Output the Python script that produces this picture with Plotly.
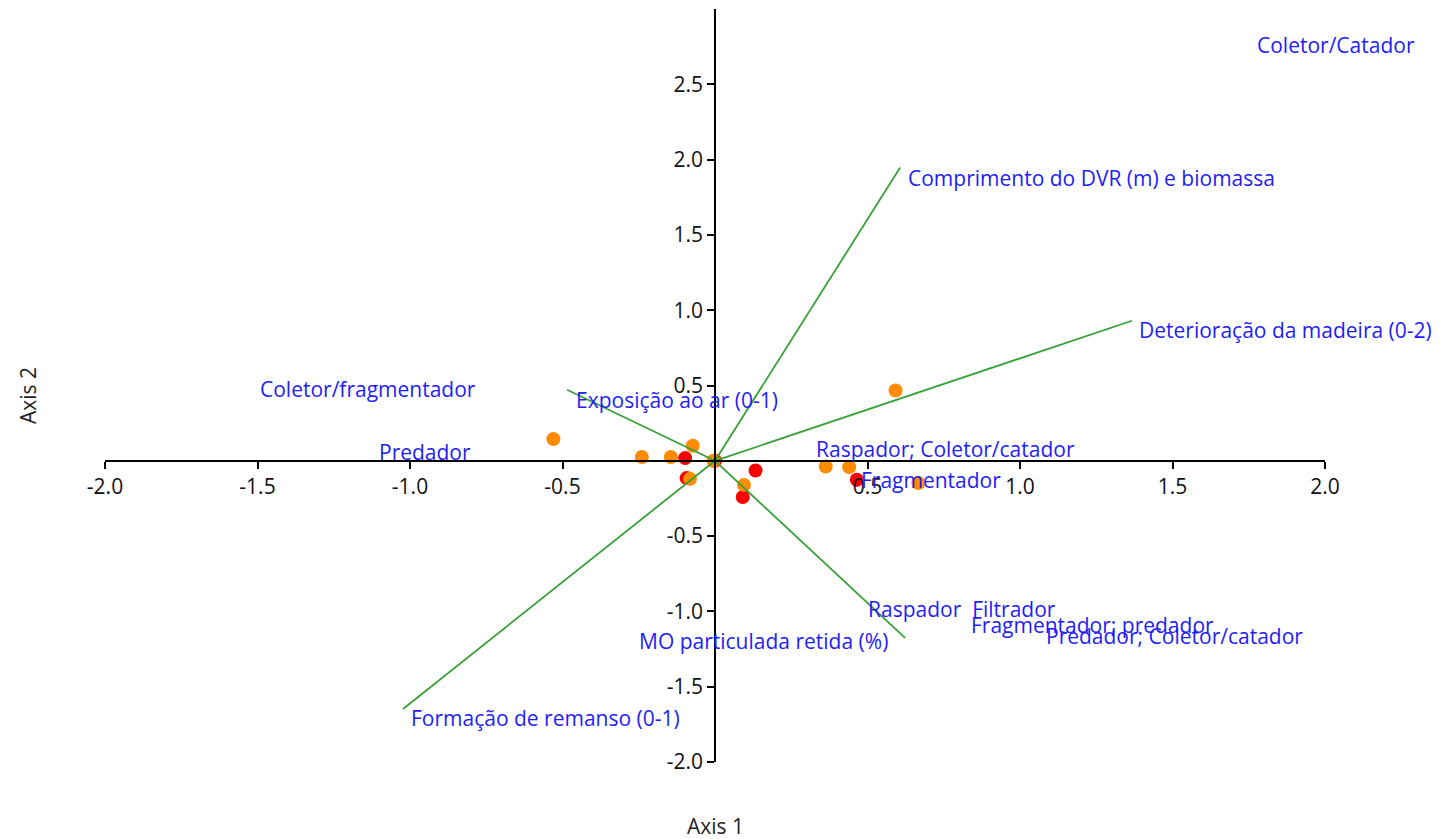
import plotly.graph_objects as go

# Sample scores (orange and red groups)
orange_x = [-0.53, -0.24, -0.145, -0.073, -0.005, -0.082, 0.095, 0.592, 0.363, 0.44, 0.667]
orange_y = [0.144, 0.025, 0.025, 0.10, 0.0, -0.12, -0.16, 0.467, -0.038, -0.042, -0.148]
red_x = [-0.098, -0.093, 0.133, 0.091, 0.465, 0.0]
red_y = [0.018, -0.115, -0.064, -0.24, -0.126, 0.0]

# Environmental vectors
vec_names = ["Comprimento do DVR (m) e biomassa", "Deterioração da madeira (0-2)",
             "Exposição ao ar (0-1)", "MO particulada retida (%)", "Formação de remanso (0-1)"]
vec_x = [0.607, 1.367, -0.485, 0.623, -1.023]
vec_y = [1.947, 0.93, 0.472, -1.176, -1.648]

# Text labels
label_text = ["Coletor/Catador", "Comprimento do DVR (m) e biomassa", "Deterioração da madeira (0-2)",
              "Coletor/fragmentador", "Exposição ao ar (0-1)", "Predador",
              "Raspador; Coletor/catador", "Fragmentador", "Raspador  Filtrador",
              "Fragmentador; predador", "Predador; Coletor/catador",
              "MO particulada retida (%)", "Formação de remanso (0-1)"]
label_x = [1.774, 0.63, 1.387, -1.495, -0.459, -1.105, 0.328, 0.475, 0.498, 0.836, 1.082, -0.252, -1.0]
label_y = [2.76, 1.88, 0.87, 0.478, 0.405, 0.06, 0.08, -0.126, -0.983, -1.09, -1.163, -1.196, -1.708]

x_ticks = [-2.0, -1.5, -1.0, -0.5, 0.5, 1.0, 1.5, 2.0]
y_ticks = [-2.0, -1.5, -1.0, -0.5, 0.5, 1.0, 1.5, 2.0, 2.5]

X_RANGE = [-2.0, 2.0]
Y_RANGE = [-2.0, 3.0]

FONT = "Open Sans"
FS = 21
BLUE = "rgb(30,30,245)"
GREEN = "rgb(55,160,55)"

fig = go.Figure()

fig.add_trace(go.Scatter(x=red_x, y=red_y, mode="markers",
                         marker=dict(color="rgb(250,0,0)", size=14),
                         showlegend=False, cliponaxis=False))
fig.add_trace(go.Scatter(x=orange_x, y=orange_y, mode="markers",
                         marker=dict(color="rgb(255,140,0)", size=14),
                         showlegend=False, cliponaxis=False))

for name, vx, vy in zip(vec_names, vec_x, vec_y):
    fig.add_trace(go.Scatter(x=[0, vx], y=[0, vy], mode="lines",
                             line=dict(color=GREEN, width=1.8),
                             hoverinfo="skip", showlegend=False, name=name))

for t, lx, ly in zip(label_text, label_x, label_y):
    fig.add_annotation(x=lx, y=ly, xref="x", yref="y", text=t, showarrow=False,
                       xanchor="left", yanchor="middle", borderpad=0,
                       font=dict(family=FONT, size=FS, color=BLUE))

fig.add_annotation(x=(715 - 105) / 1220, y=-(826 - 762) / 753, xref="paper", yref="paper",
                   text="Axis 1", showarrow=False, xanchor="center", yanchor="middle",
                   font=dict(family=FONT, size=FS, color="#222"))
fig.add_annotation(x=(28 - 105) / 1220, y=(762 - 395) / 753, xref="paper", yref="paper",
                   text="Axis 2", showarrow=False, textangle=-90,
                   xanchor="center", yanchor="middle",
                   font=dict(family=FONT, size=FS, color="#222"))

fig.update_layout(
    width=1445, height=839,
    margin=dict(l=105, r=120, t=9, b=77),
    paper_bgcolor="white", plot_bgcolor="white",
    font=dict(family=FONT, size=FS, color="#111"),
    xaxis=dict(range=X_RANGE, tickvals=x_ticks, ticktext=[f"{v:.1f}" for v in x_ticks],
               showgrid=False, zeroline=False, showline=True, linecolor="black", linewidth=1.5,
               ticks="outside", ticklen=7, tickcolor="black", tickwidth=1.5,
               anchor="free", position=(0 - Y_RANGE[0]) / (Y_RANGE[1] - Y_RANGE[0]),
               tickfont=dict(family=FONT, size=FS, color="#111")),
    yaxis=dict(range=Y_RANGE, tickvals=y_ticks, ticktext=[f"{v:.1f}" for v in y_ticks],
               showgrid=False, zeroline=False, showline=True, linecolor="black", linewidth=1.5,
               ticks="outside", ticklen=7, tickcolor="black", tickwidth=1.5,
               anchor="free", position=(0 - X_RANGE[0]) / (X_RANGE[1] - X_RANGE[0]),
               tickfont=dict(family=FONT, size=FS, color="#111")),
)

fig.write_html("out.html")
